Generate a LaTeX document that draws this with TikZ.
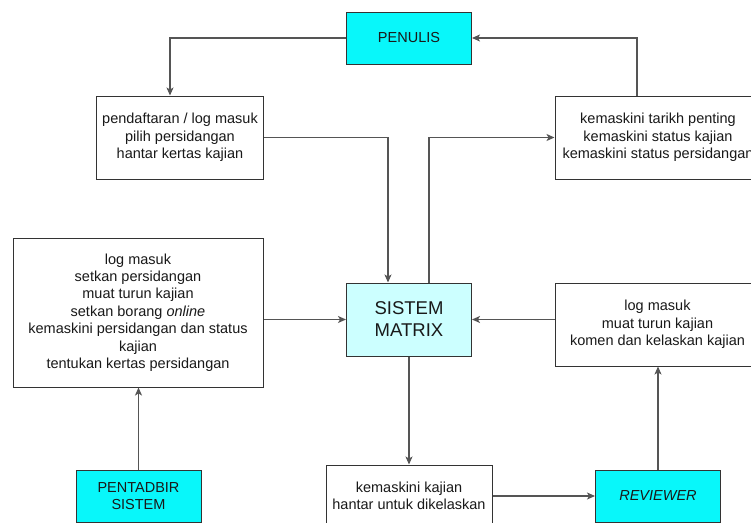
\documentclass[tikz,border=0pt]{standalone}
\usepackage{fontspec}
\setmainfont{Liberation Sans}
\usepackage{xcolor}
\usetikzlibrary{arrows.meta,positioning}
\definecolor{aktor}{HTML}{08F7FA}
\definecolor{sistem}{HTML}{CCFFFF}
\definecolor{garis}{HTML}{333333}
\definecolor{panahgaris}{HTML}{555555}

\begin{document}
\begin{tikzpicture}[x=1pt,y=-1pt,
  every node/.style={font=\fontsize{14.5}{17.4}\selectfont,align=center,inner sep=0pt,text=black!90},
  kotak/.style={draw=garis,line width=1pt,fill=white},
  pelaku/.style={kotak,fill=aktor},
  panah/.style={-{Stealth[length=8pt,width=7pt,inset=2pt]},panahgaris,line width=1.1pt}]
\useasboundingbox (0,0) rectangle (751,522);
\clip (0,0) rectangle (751,522);
\node[pelaku,minimum width=125pt,minimum height=52pt] (penulis) at (409,38) {PENULIS};
\node[kotak,minimum width=167pt,minimum height=83pt] (daftar) at (180,137.5) {pendaftaran / log masuk\\pilih persidangan\\hantar kertas kajian};
\node[kotak,minimum width=206pt,minimum height=83pt] (kemaskini) at (658,137.5) {kemaskini tarikh penting\\kemaskini status kajian\\kemaskini status persidangan};
\node[kotak,minimum width=250pt,minimum height=149pt] (admin) at (138,312.5) {log masuk\\setkan persidangan\\muat turun kajian\\setkan borang \textit{online}\\kemaskini persidangan dan status\\kajian\\tentukan kertas persidangan};
\node[kotak,fill=sistem,minimum width=125pt,minimum height=73pt,font=\fontsize{18.5}{22}\selectfont] (sistem) at (409,319.5) {SISTEM\\MATRIX};
\node[kotak,minimum width=205pt,minimum height=83pt] (semak) at (657.5,324.5) {log masuk\\muat turun kajian\\komen dan kelaskan kajian};
\node[pelaku,minimum width=125pt,minimum height=52pt] (pentadbir) at (138.5,496) {PENTADBIR\\SISTEM};
\node[kotak,minimum width=166pt,minimum height=62pt] (hantar) at (409,496) {kemaskini kajian\\hantar untuk dikelaskan};
\node[pelaku,minimum width=125pt,minimum height=52pt] (reviewer) at (658,496) {\textit{REVIEWER}};
\draw[panah] (penulis.west) -| ([xshift=-10pt]daftar.north);
\draw[panah] (daftar.east) -| ([xshift=-21pt]sistem.north);
\draw[panah] ([xshift=20pt]sistem.north) |- (kemaskini.west);
\draw[panah] ([xshift=-21pt]kemaskini.north) |- (penulis.east);
\draw[panah] (sistem.west -| admin.east) -- (sistem.west);
\draw[panah] (sistem.east -| semak.west) -- (sistem.east);
\draw[panah] (pentadbir.north) -- (pentadbir.north |- admin.south);
\draw[panah] (sistem.south) -- (hantar.north);
\draw[panah] (hantar.east) -- (reviewer.west);
\draw[panah] (reviewer.north) -- (reviewer.north |- semak.south);
\end{tikzpicture}
\end{document}
